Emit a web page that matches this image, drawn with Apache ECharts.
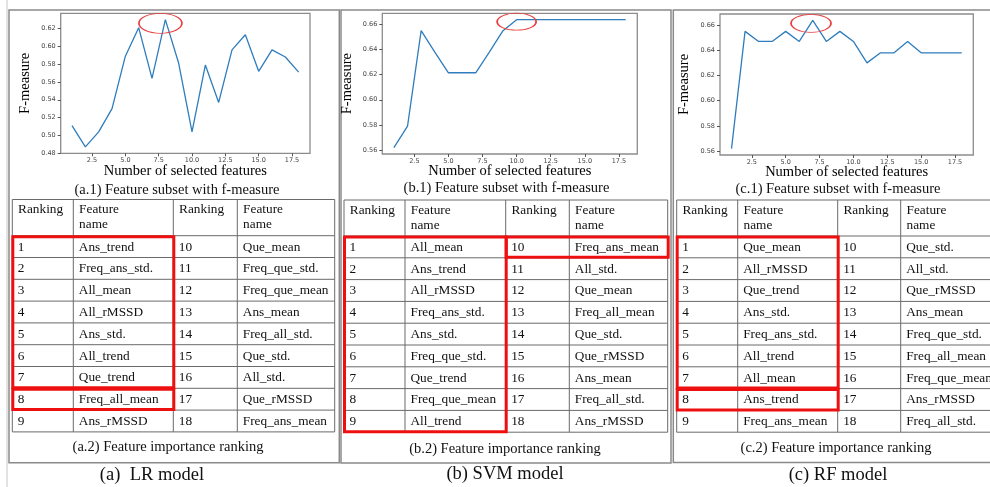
<!DOCTYPE html>
<html>
<head>
<meta charset="utf-8">
<script src="https://cdn.jsdelivr.net/npm/echarts@6/dist/echarts.min.js"></script>
<style>
html,body{margin:0;padding:0;background:#fff;}
#chart{width:990px;height:487px;}
</style>
</head>
<body>
<div id="chart"></div>
<script>
// ---------- data ----------
const featureCounts = [1,2,3,4,5,6,7,8,9,10,11,12,13,14,15,16,17,18];
const lrF  = [0.511,0.487,0.504,0.530,0.589,0.621,0.564,0.630,0.581,0.504,0.579,0.537,0.596,0.613,0.572,0.596,0.588,0.571];
const svmF = [0.562,0.579,0.655,0.638,0.6215,0.6215,0.6215,0.638,0.655,0.6637,0.6637,0.6637,0.6637,0.6637,0.6637,0.6637,0.6637,0.6637];
const rfF  = [0.562,0.655,0.647,0.647,0.655,0.647,0.6637,0.647,0.655,0.647,0.630,0.638,0.638,0.647,0.638,0.638,0.638,0.638];

const xTickValues = [2.5,5,7.5,10,12.5,15,17.5];
const lrYTicks  = [0.48,0.50,0.52,0.54,0.56,0.58,0.60,0.62];
const svmYTicks = [0.56,0.58,0.60,0.62,0.64,0.66];
const rfYTicks  = [0.56,0.58,0.60,0.62,0.64,0.66];

// peak ellipse annotations (data coords)
const lrPeak  = [7.63, 0.6259];
const svmPeak = [10.0, 0.6621];
const rfPeak  = [6.87, 0.6614];

const lrRanking  = ['Ans_trend','Freq_ans_std.','All_mean','All_rMSSD','Ans_std.','All_trend','Que_trend','Freq_all_mean','Ans_rMSSD',
                    'Que_mean','Freq_que_std.','Freq_que_mean','Ans_mean','Freq_all_std.','Que_std.','All_std.','Que_rMSSD','Freq_ans_mean'];
const svmRanking = ['All_mean','Ans_trend','All_rMSSD','Freq_ans_std.','Ans_std.','Freq_que_std.','Que_trend','Freq_que_mean','All_trend',
                    'Freq_ans_mean','All_std.','Que_mean','Freq_all_mean','Que_std.','Que_rMSSD','Ans_mean','Freq_all_std.','Ans_rMSSD'];
const rfRanking  = ['Que_mean','All_rMSSD','Que_trend','Ans_std.','Freq_ans_std.','All_trend','All_mean','Ans_trend','Freq_ans_mean',
                    'Que_std.','All_std.','Que_rMSSD','Ans_mean','Freq_que_std.','Freq_all_mean','Freq_que_mean','Ans_rMSSD','Freq_all_std.'];

// highlighted rank ranges [from, to]
const lrBoxes  = [[1,7],[8,8]];
const svmBoxes = [[1,9],[10,10]];
const rfBoxes  = [[1,7],[8,8]];

const headerLabels = ['Ranking','Feature\nname','Ranking','Feature\nname'];
const plotCaptions  = ['(a.1) Feature subset with f-measure','(b.1) Feature subset with f-measure','(c.1) Feature subset with f-measure'];
const tableCaptions = ['(a.2) Feature importance ranking','(b.2) Feature importance ranking','(c.2) Feature importance ranking'];
const modelCaptions = ['(a)  LR model','(b) SVM model','(c) RF model'];
const xTitle = 'Number of selected features';
const yTitle = 'F-measure';

// ---------- layout ----------
const SERIF = '"Liberation Serif", "Times New Roman", serif';
const grids = [
  {left:60.7, top:13.3, width:249.3, height:140},
  {left:382.3, top:13.3, width:255, height:140.7},
  {left:720, top:14, width:253.3, height:141}
];
const yRanges = [[0.47985,0.63715],[0.5569,0.6688],[0.5569,0.6688]];
const yTicks = [lrYTicks, svmYTicks, rfYTicks];
const seriesVals = [lrF, svmF, rfF];
const peaks = [lrPeak, svmPeak, rfPeak];
const peakSizes = [[43,20],[39,17],[40,18]];
const panels = [
  {x1:9, x2:339.3, y1:10, y2:462.7},
  {x1:341, x2:671, y1:10, y2:463},
  {x1:673.3, x2:1000, y1:10, y2:462.5}
];
const tables = [
  {cols:[12.3,73.3,173.3,237.3,334.7], top:199.5, hb:235.7},
  {cols:[344,405,505.7,569.3,667.7], top:200, hb:236},
  {cols:[676.7,737.7,837.7,900.7,1000], top:200, hb:236}
];
const ROW_H = 21.8;
const rankings = [lrRanking, svmRanking, rfRanking];
const boxesAll = [lrBoxes, svmBoxes, rfBoxes];
const captionPos = [
  {p:[177,190.5], t:[168,447.5], m:[152,475]},
  {p:[506.5,188.5], t:[505,449], m:[505,474]},
  {p:[838,189.5], t:[836,448.5], m:[838,475]}
];

// ---------- build ----------
function txt(text, x, y, size, align, vAlign, extra) {
  return Object.assign({
    type:'text', silent:true,
    style:{text:text, x:x, y:y, fill:'#111', font: size + 'px ' + SERIF,
           align:align, verticalAlign:vAlign, textAlign:align, textVerticalAlign:vAlign}
  }, extra || {});
}

function tableGraphics(t, names, boxes) {
  const els = [];
  const c = t.cols;
  const bottom = t.hb + 9*ROW_H;
  const ys = [t.top, t.hb];
  for (let i=1;i<=9;i++) ys.push(t.hb + i*ROW_H);
  ys.forEach(y => els.push({type:'line', silent:true, shape:{x1:c[0], y1:y, x2:c[4], y2:y}, style:{stroke:'#6a6a6a', lineWidth:1}}));
  c.forEach(x => els.push({type:'line', silent:true, shape:{x1:x, y1:t.top, x2:x, y2:bottom}, style:{stroke:'#6a6a6a', lineWidth:1}}));
  headerLabels.forEach((h,i) => {
    const e = txt(h, c[i]+5.8, t.top+3, 13.3, 'left', 'top');
    e.style.lineHeight = 15;
    els.push(e);
  });
  for (let r=0;r<9;r++) {
    const yc = t.hb + r*ROW_H + ROW_H/2 + 0.5;
    els.push(txt(String(r+1), c[0]+5.5, yc, 13.3, 'left', 'middle'));
    els.push(txt(names[r], c[1]+5.5, yc, 13.3, 'left', 'middle'));
    els.push(txt(String(r+10), c[2]+5.5, yc, 13.3, 'left', 'middle'));
    els.push(txt(names[r+9], c[3]+5.5, yc, 13.3, 'left', 'middle'));
  }
  boxes.forEach(b => {
    const half = b[0] <= 9 ? 0 : 1;
    const r0 = (b[0]-1) % 9, r1 = (b[1]-1) % 9;
    const x1 = c[half*2], x2 = c[half*2+2];
    const y1 = t.hb + r0*ROW_H + 1, y2 = t.hb + (r1+1)*ROW_H - 0.5;
    els.push({type:'rect', silent:true, z:10, shape:{x:x1+0.5, y:y1, width:x2-x1, height:y2-y1},
              style:{fill:'none', stroke:'#ee1010', lineWidth:3}});
  });
  return els;
}

const graphics = [];
graphics.push({type:'line', silent:true, shape:{x1:7, y1:0, x2:7, y2:487}, style:{stroke:'#d8d8d8', lineWidth:1.5}});
panels.forEach(p => graphics.push({type:'rect', silent:true, shape:{x:p.x1, y:p.y1, width:p.x2-p.x1, height:p.y2-p.y1},
  style:{fill:'none', stroke:'#8a8a8a', lineWidth:1.5}}));
tables.forEach((t,i) => tableGraphics(t, rankings[i], boxesAll[i]).forEach(e => graphics.push(e)));
captionPos.forEach((cp,i) => {
  graphics.push(txt(plotCaptions[i], cp.p[0], cp.p[1], 14.5, 'center', 'middle'));
  graphics.push(txt(tableCaptions[i], cp.t[0], cp.t[1], 14.5, 'center', 'middle'));
  graphics.push(txt(modelCaptions[i], cp.m[0], cp.m[1], 18.5, 'center', 'middle'));
});

const option = {
  animation:false,
  backgroundColor:'#fff',
  grid: grids.map(g => Object.assign({show:true, borderColor:'#8c8c8c', borderWidth:1.3, backgroundColor:'#fff', containLabel:false}, g)),
  xAxis: grids.map((g,i) => ({
    type:'value', gridIndex:i, min:0.15, max:18.85,
    name:xTitle, nameLocation:'middle', nameGap:10, nameMoveOverlap:false,
    nameTextStyle:{fontFamily:SERIF, fontSize:14.5, color:'#000'},
    axisLine:{show:false}, splitLine:{show:false},
    axisTick:{show:true, length:3, customValues:xTickValues, lineStyle:{color:'#555', width:1}},
    axisLabel:{customValues:xTickValues, formatter:v => v.toFixed(1), fontSize:6.5, color:'#444', margin:4, fontFamily:'DejaVu Sans'}
  })),
  yAxis: grids.map((g,i) => ({
    type:'value', gridIndex:i, min:yRanges[i][0], max:yRanges[i][1],
    name:yTitle, nameLocation:'middle', nameGap:28, nameRotate:90, nameMoveOverlap:false,
    nameTextStyle:{fontFamily:SERIF, fontSize:14.5, color:'#000'},
    axisLine:{show:false}, splitLine:{show:false},
    axisTick:{show:true, length:3, customValues:yTicks[i], lineStyle:{color:'#555', width:1}},
    axisLabel:{customValues:yTicks[i], formatter:v => v.toFixed(2), fontSize:6.5, color:'#444', margin:5, fontFamily:'DejaVu Sans'}
  })),
  series: seriesVals.map((vals,i) => ({
    type:'line', xAxisIndex:i, yAxisIndex:i,
    data: featureCounts.map((x,k) => [x, vals[k]]),
    showSymbol:false, symbol:'none',
    lineStyle:{color:'#2f7dbd', width:1.3},
    markPoint:{
      silent:true, symbol:'circle', symbolSize:peakSizes[i],
      itemStyle:{color:'rgba(0,0,0,0)', borderColor:'#e8403f', borderWidth:1.2},
      label:{show:false},
      data:[{coord:peaks[i]}]
    }
  })),
  graphic: graphics
};

const chart = echarts.init(document.getElementById('chart'), null, {renderer:'canvas'});
chart.setOption(option);
</script>
</body>
</html>
